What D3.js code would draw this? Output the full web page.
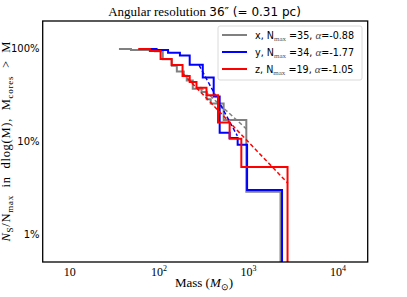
<!DOCTYPE html>
<html><head><meta charset="utf-8">
<script src="https://cdn.jsdelivr.net/npm/d3@7"></script>
<style>body{margin:0;background:#fff;} svg{display:block;}</style>
</head><body><svg id="c" width="407" height="297"></svg>
<script>
// ---- data ----
const xTicks = [10, 100, 1000, 10000];
const xTickExp = ["", "2", "3", "4"];
const yTicks = [1, 10, 100];
const yTickLabels = ["1%", "10%", "100%"];
const seriesNames = ["x", "y", "z"];
const nMax = [35, 34, 19];
const alphas = ["-0.88", "-1.77", "-1.05"];

// step curves: mass bin edges and cumulative fraction (%) per step
const grayMass = [35.6, 48.5, 89.8, 110, 139, 158, 189, 204, 238, 298, 341, 378, 527, 945, 2280];
const grayFrac = [100, 97.1, 94.3, 77.1, 65.7, 57.1, 51.4, 45.7, 37.1, 34.3, 28.6, 25.7, 17.1, 2.86];
const blueMass = [73.1, 93.8, 126, 171, 220, 308, 408, 476, 615, 756, 964, 2370];
const blueFrac = [100, 97, 91, 85, 67.2, 49.2, 30.7, 12.4, 10.9, 9.2, 3.0];
const redMass = [58.5, 78.9, 104, 138, 183, 220, 262, 339, 456, 615, 831, 2730];
const redFrac = [100, 95, 78, 67, 51, 44, 38, 31.6, 16, 10.7, 5.3];

// power-law fits (endpoints)
const grayFitMass = [290, 945];
const grayFitFrac = [38.7, 13.7];
const blueFitMass = [280, 750];
const blueFitFrac = [66.8, 11.5];
const redFitMass = [185, 2750];
const redFitFrac = [54, 3.55];

// ---- drawing ----
const colors = ["#808080", "#0000ff", "#ff0000"];
const svg = d3.select("#c");
const L = 42.7, R = 367.7, T = 21, B = 262;
const x = d3.scaleLog().domain([5, 21500]).range([L, R]);
const y = d3.scaleLog().domain([0.5, 200]).range([B, T]);

svg.append("rect").attr("width", 407).attr("height", 297).attr("fill", "#fff");
svg.append("clipPath").attr("id", "clip").append("rect")
  .attr("x", L).attr("y", T).attr("width", R - L).attr("height", B - T);

const plot = svg.append("g").attr("clip-path", "url(#clip)");
const stepLine = d3.line().x(d => x(d[0])).y(d => y(d[1])).curve(d3.curveStepAfter);
const straight = d3.line().x(d => x(d[0])).y(d => y(d[1]));

const steps = [[grayMass, grayFrac], [blueMass, blueFrac], [redMass, redFrac]];
const fits = [[grayFitMass, grayFitFrac], [blueFitMass, blueFitFrac], [redFitMass, redFitFrac]];

steps.forEach(([m, f], i) => {
  const pts = f.map((v, k) => [m[k], v]);
  pts.push([m[m.length - 1], 0.1]);
  plot.append("path").attr("d", stepLine(pts)).attr("fill", "none")
    .attr("stroke", colors[i]).attr("stroke-width", 2);
  const fm = fits[i][0], ff = fits[i][1];
  plot.append("path").attr("d", straight(fm.map((v, k) => [v, ff[k]]))).attr("fill", "none")
    .attr("stroke", colors[i]).attr("stroke-width", 1.5).attr("stroke-dasharray", "4,2.5");
});

// frame
svg.append("rect").attr("x", L).attr("y", T).attr("width", R - L).attr("height", B - T)
  .attr("fill", "none").attr("stroke", "#000").attr("stroke-width", 1.3);

// y tick labels
yTicks.forEach((t, i) => {
  svg.append("text").attr("x", 39.5).attr("y", y(t)).attr("dy", "0.35em")
    .attr("text-anchor", "end").attr("font-family", "DejaVu Sans").attr("font-size", 10)
    .attr("fill", "#000").text(yTickLabels[i]);
});
// x tick labels
xTicks.forEach((t, i) => {
  const tx = svg.append("text").attr("x", x(t)).attr("y", 276)
    .attr("text-anchor", "middle").attr("font-family", "Liberation Serif").attr("font-size", 12)
    .attr("fill", "#000");
  tx.append("tspan").text("10");
  if (xTickExp[i]) tx.append("tspan").attr("font-size", 8).attr("dy", -5).text(xTickExp[i]);
});

// x label
const xl = svg.append("text").attr("x", 204).attr("y", 287).attr("text-anchor", "middle")
  .attr("font-family", "Liberation Serif").attr("font-size", 13).attr("fill", "#000");
xl.append("tspan").text("Mass (");
xl.append("tspan").attr("font-style", "italic").text("M");
xl.append("tspan").attr("font-size", 9).attr("dy", 3).text("\u2299");
xl.append("tspan").attr("dy", -3).text(")");

// y label
const yl = svg.append("text").attr("transform", "rotate(-90)").attr("x", -141.5).attr("y", 10)
  .attr("text-anchor", "middle").attr("font-family", "Liberation Serif").attr("font-size", 12.5)
  .attr("fill", "#000").style("white-space", "pre")
  .attr("textLength", 200).attr("lengthAdjust", "spacing");
yl.append("tspan").attr("font-style", "italic").text("N");
yl.append("tspan").attr("font-size", 9).attr("dy", 3).text("S");
yl.append("tspan").attr("dy", -3).text("/N");
yl.append("tspan").attr("font-size", 9).attr("dy", 3).text("max");
yl.append("tspan").attr("dy", -3).text("  in  dlog(M),  M");
yl.append("tspan").attr("font-size", 9).attr("dy", 3).text("cores");
yl.append("tspan").attr("dy", -3).text("  >  M");

// title
const tt = svg.append("text").attr("x", 204.5).attr("y", 16).attr("text-anchor", "middle")
  .attr("fill", "#000").style("white-space", "pre");
tt.append("tspan").attr("font-family", "Liberation Serif").attr("font-size", 13).text("Angular resolution ");
tt.append("tspan").attr("font-family", "DejaVu Sans").attr("font-size", 12).text("36\u2033 (= 0.31 pc)");

// legend
const lg = svg.append("g");
lg.append("rect").attr("x", 218).attr("y", 26).attr("width", 144).attr("height", 54).attr("rx", 2)
  .attr("fill", "#fff").attr("fill-opacity", 0.85).attr("stroke", "#d0d0d0").attr("stroke-width", 0.8);
seriesNames.forEach((s, i) => {
  const yy = 35 + i * 17;
  lg.append("line").attr("x1", 222).attr("x2", 247).attr("y1", yy).attr("y2", yy)
    .attr("stroke", colors[i]).attr("stroke-width", 2);
  const t = lg.append("text").attr("x", 255).attr("y", yy + 3.5).attr("font-family", "DejaVu Sans")
    .attr("font-size", 9.6).attr("fill", "#000").style("white-space", "pre");
  t.append("tspan").text(s + ", N");
  t.append("tspan").attr("font-family", "Liberation Serif").attr("font-size", 7).attr("fill", "#555").attr("dy", 2).text("max");
  t.append("tspan").attr("dy", -2).text(" =" + nMax[i] + ", ");
  t.append("tspan").attr("font-family", "Liberation Serif").attr("font-style", "italic").attr("fill", "#444").attr("font-size", 11).text("\u03b1");
  t.append("tspan").text("=" + alphas[i]);
});
</script></body></html>
